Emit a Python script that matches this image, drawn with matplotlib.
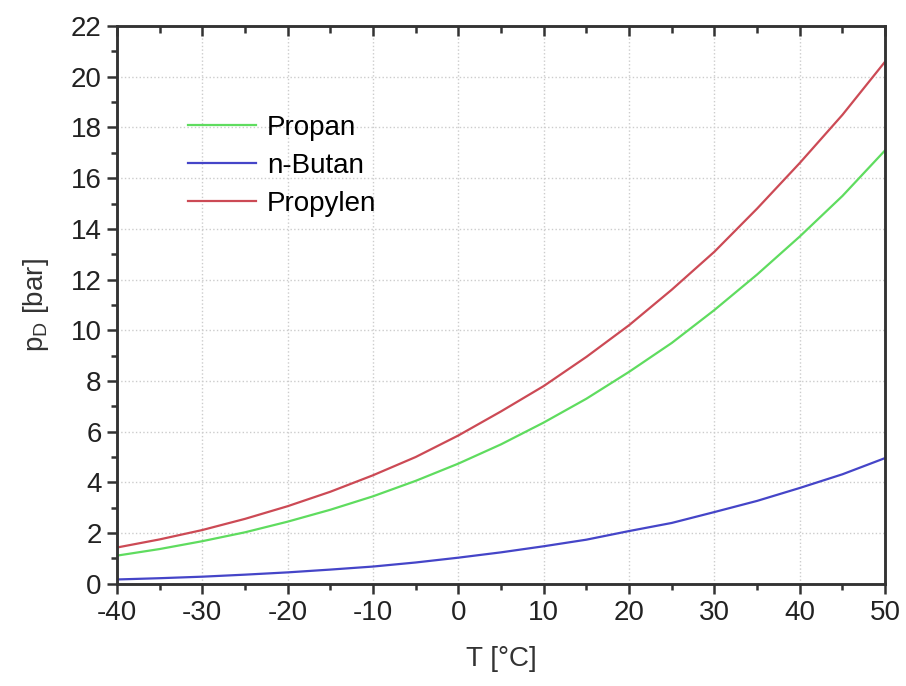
import numpy as np
import matplotlib.pyplot as plt
from matplotlib.ticker import MultipleLocator

plt.rcParams['font.family'] = ['Liberation Sans', 'DejaVu Sans']
plt.rcParams['axes.unicode_minus'] = False

# Temperatur [°C]
T = [-40, -35, -30, -25, -20, -15, -10, -5, 0, 5, 10, 15, 20, 25, 30, 35, 40, 45, 50]
# Dampfdruck [bar]
propan = [1.11, 1.37, 1.68, 2.03, 2.45, 2.92, 3.45, 4.06, 4.74, 5.5, 6.36, 7.3, 8.36, 9.5, 10.8, 12.2, 13.7, 15.3, 17.1]
butan = [0.17, 0.22, 0.28, 0.36, 0.45, 0.56, 0.68, 0.84, 1.03, 1.24, 1.48, 1.74, 2.08, 2.4, 2.83, 3.27, 3.78, 4.32, 4.96]
propylen = [1.43, 1.75, 2.12, 2.56, 3.06, 3.63, 4.28, 5.0, 5.85, 6.8, 7.8, 8.95, 10.2, 11.6, 13.1, 14.8, 16.6, 18.5, 20.6]

fs = 20

fig = plt.figure(figsize=(9.06, 6.86), dpi=100)
ax = fig.add_axes([0.129, 0.149, 0.848, 0.813])

ax.plot(T, propan, color='#5fdc5f', lw=1.6, label='Propan')
ax.plot(T, butan, color='#4545c8', lw=1.6, label='n-Butan')
ax.plot(T, propylen, color='#cc4a55', lw=1.6, label='Propylen')

ax.set_xlim(-40, 50)
ax.set_ylim(0, 22)
ax.xaxis.set_major_locator(MultipleLocator(10))
ax.xaxis.set_minor_locator(MultipleLocator(5))
ax.yaxis.set_major_locator(MultipleLocator(2))
ax.yaxis.set_minor_locator(MultipleLocator(1))

ax.grid(True, which='major', color='#cccccc', linestyle=':', lw=1.0)
for s in ax.spines.values():
    s.set_linewidth(1.8)
    s.set_color('#333333')

ax.tick_params(which='both', direction='out', colors='#333333', labelcolor='#222222', labelsize=fs, width=1.8)
ax.tick_params(which='major', length=7)
ax.tick_params(which='minor', length=4)
ax.tick_params(axis='x', pad=5)
ax.tick_params(axis='y', pad=4)

# Ticks oben nach innen
top = ax.twiny()
top.set_xlim(ax.get_xlim())
top.xaxis.set_major_locator(MultipleLocator(10))
top.xaxis.set_minor_locator(MultipleLocator(5))
top.tick_params(which='both', direction='in', colors='#333333', width=1.8, labeltop=False)
top.tick_params(which='major', length=7)
top.tick_params(which='minor', length=5)
for s in top.spines.values():
    s.set_linewidth(1.8)
    s.set_color('#333333')

ax.set_xlabel('T [°C]', fontsize=fs, color='#333333', labelpad=14)
ax.set_ylabel('p$_\\mathregular{D}$ [bar]', fontsize=fs, color='#333333', labelpad=14)

ax.legend(loc='upper left', bbox_to_anchor=(0.06, 0.885), frameon=False, fontsize=fs,
          handlelength=2.45, labelspacing=0.42, handletextpad=0.4)

fig.savefig('out.png')
